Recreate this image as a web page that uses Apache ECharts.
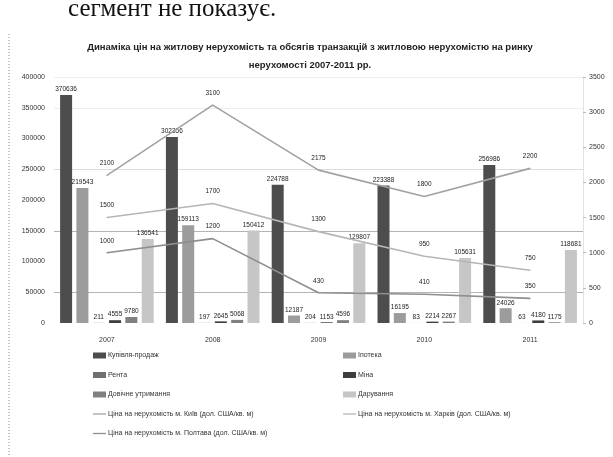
<!DOCTYPE html>
<html>
<head>
<meta charset="utf-8">
<script src="https://cdn.jsdelivr.net/npm/echarts@6/dist/echarts.min.js"></script>
<style>
  html, body { margin: 0; padding: 0; background: #fff; }
  #chart { width: 613px; height: 457px; }
</style>
</head>
<body>
<div id="chart"></div>
<script>
// Years on the category axis
const years = ['2007', '2008', '2009', '2010', '2011'];

// Number of transactions with housing by contract type
const salePurchase = [370636, 302356, 224788, 223388, 256986];
const mortgage     = [219543, 159113, 12187, 16195, 24026];
const rent         = [211, 197, 204, 83, 63];
const exchange     = [4555, 2645, 1153, 2214, 4180];
const lifeCare     = [9780, 5068, 4596, 2267, 1175];
const gift         = [136541, 150412, 129807, 105631, 118681];

// Average price per square metre, USD
const priceKyiv    = [2100, 3100, 2175, 1800, 2200];
const priceKharkiv = [1500, 1700, 1300, 950, 750];
const pricePoltava = [1000, 1200, 430, 410, 350];

// Axis ticks
const leftTicks  = { min: 0, max: 400000, step: 50000 };
const rightTicks = { min: 0, max: 3500, step: 500 };

const names = {
  sale: 'Купівля-продаж',
  mortgage: 'Іпотека',
  rent: 'Рента',
  exchange: 'Міна',
  life: 'Довічне утримання',
  gift: 'Дарування',
  kyiv: 'Ціна на нерухомість м. Київ (дол. США/кв. м)',
  kharkiv: 'Ціна на нерухомість м. Харків (дол. США/кв. м)',
  poltava: 'Ціна на нерухомість м. Полтава (дол. США/кв. м)'
};

const FONT = 'Liberation Sans';
const plain = v => String(v);
const barLabel = { show: true, position: 'top', distance: 2, fontSize: 6.5, color: '#222', fontFamily: FONT };
const lineLabel = { show: true, position: 'top', distance: 8, fontSize: 6.5, color: '#222', fontFamily: FONT };

function bar(name, data, color) {
  return {
    name, type: 'bar', data, yAxisIndex: 0,
    barWidth: 12, barGap: '36%',
    itemStyle: { color },
    label: barLabel
  };
}
function line(name, data, color) {
  return {
    name, type: 'line', data, yAxisIndex: 1,
    symbol: 'circle', symbolSize: 1, showSymbol: true,
    lineStyle: { color, width: 1.6 },
    itemStyle: { color },
    label: lineLabel,
    labelLayout: { hideOverlap: false },
    z: 5
  };
}

const lineIcon = 'path://M0,0 L14,0 L14,1.4 L0,1.4 Z';
const legendCommon = {
  orient: 'vertical', top: 347, itemWidth: 13, itemHeight: 6, itemGap: 12.5,
  icon: 'rect',
  textStyle: { fontSize: 7, color: '#333', fontFamily: FONT, padding: [0, 0, 0, -3] }
};

const chart = echarts.init(document.getElementById('chart'), null, { renderer: 'canvas' });
chart.setOption({
  backgroundColor: '#fff',
  animation: false,
  title: {
    text: 'Динаміка цін на житлову нерухомість та обсягів транзакцій з житловою нерухомістю на ринку\nнерухомості 2007-2011 рр.',
    left: 305, top: 33, textAlign: 'center',
    textStyle: { fontSize: 9.5, fontWeight: 'bold', color: '#222', fontFamily: FONT, lineHeight: 18 }
  },
  grid: { left: 54, right: 30, top: 77, bottom: 134 },
  xAxis: {
    type: 'category', data: years,
    axisLine: { show: false }, axisTick: { show: false },
    axisLabel: { fontSize: 7, color: '#333', fontFamily: FONT, margin: 14 }
  },
  yAxis: [
    {
      type: 'value', min: leftTicks.min, max: leftTicks.max, interval: leftTicks.step,
      axisLine: { show: false }, axisTick: { show: false },
      axisLabel: { fontSize: 7, color: '#333', fontFamily: FONT, margin: 9, formatter: plain },
      splitLine: { lineStyle: { width: 1.2, color: ['rgba(0,0,0,0)', '#b4b4b4', 'rgba(0,0,0,0)', '#b4b4b4', 'rgba(0,0,0,0)', '#dcdcdc', 'rgba(0,0,0,0)', '#eeeeee', '#eeeeee'] } }
    },
    {
      type: 'value', min: rightTicks.min, max: rightTicks.max, interval: rightTicks.step,
      position: 'right',
      axisLine: { show: true, lineStyle: { color: '#e2e2e2' } },
      axisTick: { show: true, length: 3, lineStyle: { color: '#bbb' } },
      axisLabel: { fontSize: 7, color: '#333', fontFamily: FONT, margin: 6, formatter: plain },
      splitLine: { show: false }
    }
  ],
  legend: [
    Object.assign({}, legendCommon, {
      left: 88,
      data: [
        names.sale, names.rent, names.life,
        { name: names.kyiv, icon: lineIcon },
        { name: names.poltava, icon: lineIcon }
      ]
    }),
    Object.assign({}, legendCommon, {
      left: 338,
      data: [
        names.mortgage, names.exchange, names.gift,
        { name: names.kharkiv, icon: lineIcon }
      ]
    })
  ],
  series: [
    bar(names.sale, salePurchase, '#4d4d4d'),
    bar(names.mortgage, mortgage, '#9c9c9c'),
    bar(names.rent, rent, '#707070'),
    bar(names.exchange, exchange, '#3e3e3e'),
    bar(names.life, lifeCare, '#808080'),
    bar(names.gift, gift, '#c6c6c6'),
    line(names.kyiv, priceKyiv, '#a2a2a2'),
    line(names.kharkiv, priceKharkiv, '#b6b6b6'),
    line(names.poltava, pricePoltava, '#8e8e8e')
  ],
  graphic: [
    {
      type: 'text', left: 68, top: -3,
      style: { text: 'сегмент не показує.', fontSize: 25, fontFamily: 'Liberation Serif', fill: '#111' }
    },
    {
      type: 'line',
      shape: { x1: 9, y1: 34, x2: 9, y2: 457 },
      style: { stroke: '#888', lineWidth: 1, lineDash: [1, 2] }
    }
  ]
});
</script>
</body>
</html>
